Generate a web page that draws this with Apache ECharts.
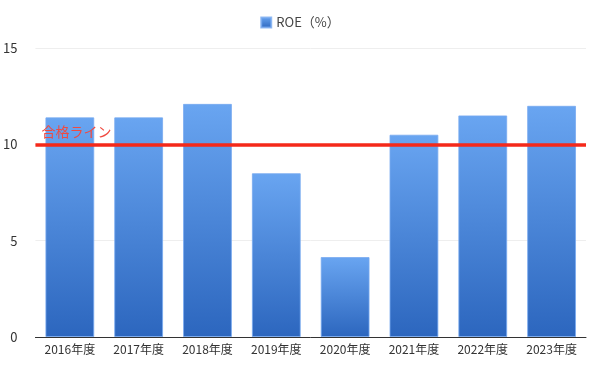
<!DOCTYPE html>
<html><head><meta charset="utf-8">
<script src="https://cdn.jsdelivr.net/npm/echarts@6/dist/echarts.min.js"></script>
<style>html,body{margin:0;padding:0;background:#fff}#c{width:600px;height:365px}</style>
</head><body><div id="c"></div>
<script>
const categories = ['2016年度','2017年度','2018年度','2019年度','2020年度','2021年度','2022年度','2023年度'];
const roeValues = [11.4, 11.4, 12.1, 8.5, 4.15, 10.5, 11.5, 12.0];
const passLine = 10;
const yTicks = {min: 0, max: 15, interval: 5};

const grad = new echarts.graphic.LinearGradient(0,0,0,1,[
  {offset:0,color:'#69a5f1'},{offset:1,color:'#2c66be'}]);
const chart = echarts.init(document.getElementById('c'));
chart.setOption({
  animation:false,
  textStyle:{fontFamily:'"Noto Sans CJK JP", sans-serif'},
  legend:{top:11,left:'center',icon:'rect',itemWidth:10,itemHeight:10,itemGap:7,
    textStyle:{color:'#444',fontSize:13},data:['ROE（%）']},
  grid:{left:34,right:14,top:48,bottom:28},
  xAxis:{type:'category',data:categories,
    axisLine:{lineStyle:{color:'#333'}},axisTick:{show:false},
    axisLabel:{color:'#333',fontSize:12,margin:6}},
  yAxis:{type:'value',min:yTicks.min,max:yTicks.max,interval:yTicks.interval,
    axisLine:{show:false},axisTick:{show:false},
    axisLabel:{color:'#333',fontSize:13,margin:18},
    splitLine:{lineStyle:{color:'#eeeeee'}}},
  series:[{name:'ROE（%）',type:'bar',data:roeValues,barCategoryGap:'29%',
    itemStyle:{color:grad,borderColor:'rgba(120,170,240,0.8)',borderWidth:1},
    markLine:{symbol:'none',silent:true,
      lineStyle:{color:'#f5291a',width:3.5,type:'solid'},
      label:{show:true,position:'insideStartTop',formatter:'合格ライン',color:'#f04a40',fontSize:14,distance:[6,6]},
      data:[{yAxis:passLine}]}}]
});
</script></body></html>
